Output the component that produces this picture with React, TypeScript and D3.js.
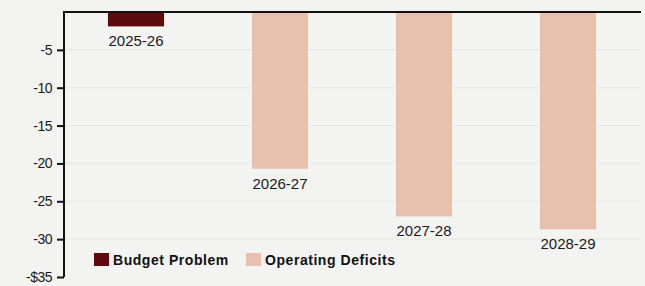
import React, { useEffect, useRef } from 'react';
import * as d3 from 'd3';

const categories = ['2025-26', '2026-27', '2027-28', '2028-29'];
const budgetProblem: (number | null)[] = [-1.9, null, null, null];
const operatingDeficits: (number | null)[] = [null, -20.7, -27.0, -28.7];
const yTicks = [0, -5, -10, -15, -20, -25, -30, -35];
const legendItems = ['Budget Problem', 'Operating Deficits'];

const W = 645;
const H = 286;
const colors = ['#5e0b0e', '#e8c1ae'];

export default function App() {
  const ref = useRef<SVGSVGElement>(null);

  useEffect(() => {
    const svg = d3.select(ref.current);
    svg.selectAll('*').remove();

    const left = 64;
    const right = 640;
    const x = d3.scaleBand().domain(categories).range([left, right]).paddingInner(0.61).paddingOuter(0.305);
    const y = d3.scaleLinear().domain([0, -35]).range([12, 277]);

    svg.append('rect').attr('width', W).attr('height', H).attr('fill', '#f3f3f2');

    // grid
    svg
      .append('g')
      .selectAll('line')
      .data(yTicks.filter(t => t !== 0 && t !== -35))
      .enter()
      .append('line')
      .attr('x1', left)
      .attr('x2', right)
      .attr('y1', d => y(d))
      .attr('y2', d => y(d))
      .attr('stroke', '#e6e6e6')
      .attr('stroke-width', 1);

    const series = [budgetProblem, operatingDeficits];
    series.forEach((vals, si) => {
      const rows = categories.map((c, i) => ({ c, v: vals[i] })).filter(d => d.v !== null) as { c: string; v: number }[];
      svg
        .append('g')
        .selectAll('rect')
        .data(rows)
        .enter()
        .append('rect')
        .attr('x', d => x(d.c)!)
        .attr('y', y(0))
        .attr('width', x.bandwidth())
        .attr('height', d => y(d.v) - y(0))
        .attr('fill', colors[si]);
      svg
        .append('g')
        .selectAll('text')
        .data(rows)
        .enter()
        .append('text')
        .attr('x', d => x(d.c)! + x.bandwidth() / 2)
        .attr('y', d => y(d.v) + 20)
        .attr('text-anchor', 'middle')
        .style('font-family', 'Liberation Sans, Arial, sans-serif')
        .style('font-size', '15px')
        .attr('fill', '#1a1a1a')
        .text(d => d.c);
    });

    // y axis
    const yAxis = d3
      .axisLeft(y)
      .tickValues(yTicks.filter(t => t !== 0))
      .tickSize(7)
      .tickPadding(5)
      .tickFormat(d => (d === -35 ? '-$35' : String(d)));
    const ax = svg.append('g').attr('transform', `translate(${left},0)`).call(yAxis);
    ax.select('.domain').remove();
    ax.selectAll('.tick line').attr('stroke', '#111').attr('stroke-width', 2);
    ax.selectAll('.tick text')
      .attr('fill', '#1a1a1a')
      .style('font-family', 'Liberation Sans, Arial, sans-serif')
      .style('font-size', '14px')
      .style('letter-spacing', '-0.5px');

    svg
      .append('line')
      .attr('x1', left)
      .attr('x2', left)
      .attr('y1', y(0))
      .attr('y2', y(-35))
      .attr('stroke', '#111')
      .attr('stroke-width', 2);
    svg
      .append('line')
      .attr('x1', left - 1)
      .attr('x2', right + 1)
      .attr('y1', y(0))
      .attr('y2', y(0))
      .attr('stroke', '#111')
      .attr('stroke-width', 2);

    // legend
    const legendX = [94, 246];
    const lg = svg.append('g');
    legendItems.forEach((name, i) => {
      lg.append('rect')
        .attr('x', legendX[i])
        .attr('y', 253)
        .attr('width', 15)
        .attr('height', 13)
        .attr('fill', colors[i]);
      lg.append('text')
        .attr('x', legendX[i] + 19)
        .attr('y', 264.5)
        .style('font-family', 'Liberation Sans, Arial, sans-serif')
        .style('font-size', '14px')
        .style('font-weight', 'bold')
        .style('letter-spacing', '0.55px')
        .attr('fill', '#111')
        .text(name);
    });
  }, []);

  return (
    <div style={{ position: 'fixed', left: 0, top: 0 }}>
      <svg ref={ref} width={W} height={H} style={{ display: 'block' }} />
    </div>
  );
}
